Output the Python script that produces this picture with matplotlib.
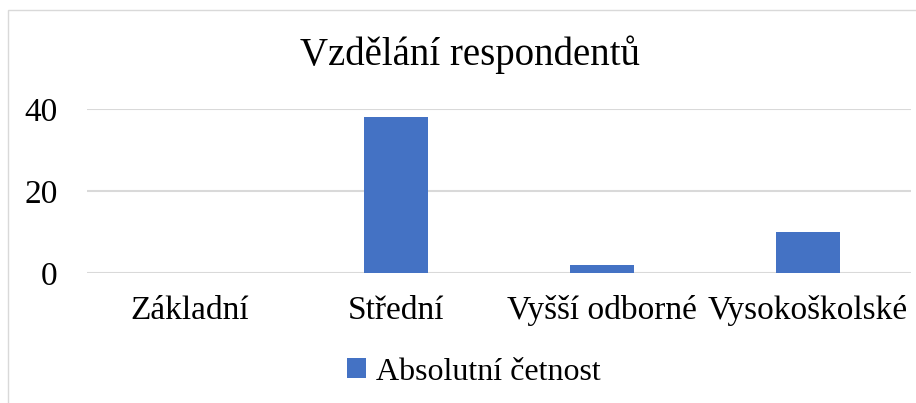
import numpy as np
import matplotlib.pyplot as plt
from matplotlib.patches import Rectangle

categories = ["Základní", "Střední", "Vyšší odborné", "Vysokoškolské"]
counts = [0, 38, 2, 10]
series_name = "Absolutní četnost"
y_ticks = [0, 20, 40]

plt.rcParams["font.family"] = ["Liberation Serif", "DejaVu Serif"]

fig = plt.figure(figsize=(9.16, 4.03), dpi=100)
ax = fig.add_axes([87 / 916, 1 - 273 / 403, 824 / 916, 164 / 403])

x = np.arange(len(categories))
ax.bar(x, counts, width=0.31, color="#4472C4", label=series_name, zorder=3)
ax.set_xlim(-0.5, len(categories) - 0.5)
ax.set_ylim(0, 40)
ax.set_yticks(y_ticks)
ax.set_xticks(x, categories)
ax.tick_params(axis="both", length=0, labelsize=24, colors="black")
ax.tick_params(axis="x", pad=16)
ax.tick_params(axis="y", pad=21)
ax.grid(axis="y", color="#d9d9d9", linewidth=1.5, zorder=0)
for s in ax.spines.values():
    s.set_visible(False)

fig.text(470 / 916, 1 - 55 / 403, "Vzdělání respondentů", ha="center", va="center", fontsize=28)
fig.legend(loc="center", bbox_to_anchor=(474 / 916, 1 - 372 / 403), frameon=False,
           fontsize=23, handlelength=0.6, handleheight=0.6, handletextpad=0.3)

fig.add_artist(Rectangle((8 / 916, -0.1), 1.2, 1 - 10 / 403 + 0.1, transform=fig.transFigure,
                         fill=False, edgecolor="#d9d9d9", linewidth=1))

fig.savefig("out.png", dpi=100)
